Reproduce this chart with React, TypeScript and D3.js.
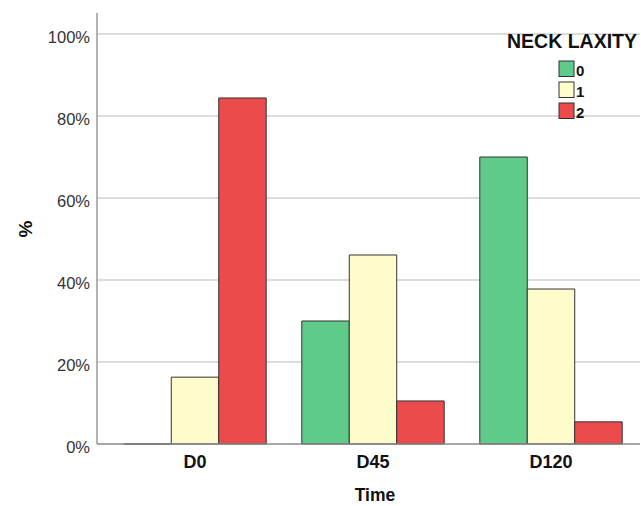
import React, { useEffect, useRef } from 'react';
import * as d3 from 'd3';

const times = ['D0', 'D45', 'D120'];
const levels = ['0', '1', '2'];
const pct0 = [0, 30, 70];
const pct1 = [16.3, 46.1, 37.8];
const pct2 = [84.4, 10.5, 5.4];
const yTicks = [0, 20, 40, 60, 80, 100];
const colors = ['#5ecb8b', '#fefccb', '#ec4b4b'];

const width = 641;
const height = 506;

const App: React.FC = () => {
  const ref = useRef<SVGSVGElement>(null);

  useEffect(() => {
    if (!ref.current) return;
    const svg = d3.select(ref.current);
    svg.selectAll('*').remove();

    const left = 97;
    const right = 640;
    const bottom = 444;
    const font = 'Liberation Sans, Arial, sans-serif';

    const y = d3.scaleLinear().domain([0, 100]).range([bottom, 34]);
    const x0 = d3
      .scaleBand<string>()
      .domain(times)
      .range([106, 640])
      .paddingInner(0.2)
      .paddingOuter(0.1);
    const x1 = d3
      .scaleBand<string>()
      .domain(levels)
      .range([0, x0.bandwidth()]);

    // gridlines
    svg
      .append('g')
      .selectAll('line')
      .data(yTicks.filter(t => t > 0))
      .enter()
      .append('line')
      .attr('x1', left)
      .attr('x2', right)
      .attr('y1', d => y(d))
      .attr('y2', d => y(d))
      .attr('stroke', '#d0d0d0')
      .attr('stroke-width', 1.5);

    // y tick labels
    svg
      .append('g')
      .selectAll('text')
      .data(yTicks)
      .enter()
      .append('text')
      .attr('x', 90)
      .attr('y', d => y(d) + 9)
      .attr('text-anchor', 'end')
      .attr('font-family', font)
      .attr('font-size', 16.5)
      .attr('fill', '#333')
      .text(d => `${d}%`);

    const series = [pct0, pct1, pct2];
    const bars = times.flatMap((t, i) =>
      levels.map((l, j) => ({ t, l, v: series[j][i], c: colors[j] })),
    );

    // bars as paths so a zero value still shows its outline
    svg
      .append('g')
      .selectAll('path')
      .data(bars)
      .enter()
      .append('path')
      .attr('d', d => {
        const bx = (x0(d.t) as number) + (x1(d.l) as number);
        const p = d3.path();
        p.rect(bx, y(d.v), x1.bandwidth(), bottom - y(d.v));
        return p.toString();
      })
      .attr('fill', d => d.c)
      .attr('stroke', '#333')
      .attr('stroke-width', 1);

    // axes lines
    svg
      .append('line')
      .attr('x1', left)
      .attr('x2', left)
      .attr('y1', 13)
      .attr('y2', bottom)
      .attr('stroke', '#999')
      .attr('stroke-width', 1.5);
    svg
      .append('line')
      .attr('x1', left)
      .attr('x2', right)
      .attr('y1', bottom)
      .attr('y2', bottom)
      .attr('stroke', '#888')
      .attr('stroke-width', 1.5);

    // x labels
    svg
      .append('g')
      .selectAll('text')
      .data(times)
      .enter()
      .append('text')
      .attr('x', d => (x0(d) as number) + x0.bandwidth() / 2)
      .attr('y', 468)
      .attr('text-anchor', 'middle')
      .attr('font-family', font)
      .attr('font-weight', 'bold')
      .attr('font-size', 18)
      .attr('fill', '#111')
      .text(d => d);

    svg
      .append('text')
      .attr('x', 375)
      .attr('y', 501)
      .attr('text-anchor', 'middle')
      .attr('font-family', font)
      .attr('font-weight', 'bold')
      .attr('font-size', 17.5)
      .attr('fill', '#111')
      .text('Time');

    svg
      .append('text')
      .attr('transform', 'translate(32,229) rotate(-90)')
      .attr('text-anchor', 'middle')
      .attr('font-family', font)
      .attr('font-weight', 'bold')
      .attr('font-size', 19)
      .attr('fill', '#111')
      .text('%');

    // legend
    svg
      .append('text')
      .attr('x', 572)
      .attr('y', 48)
      .attr('text-anchor', 'middle')
      .attr('font-family', font)
      .attr('font-weight', 'bold')
      .attr('font-size', 19.5)
      .attr('fill', '#111')
      .text('NECK LAXITY');

    const lg = svg
      .append('g')
      .selectAll('g')
      .data(levels)
      .enter()
      .append('g')
      .attr('transform', (_, i) => `translate(559,${61 + i * 21})`);
    lg.append('rect')
      .attr('width', 15)
      .attr('height', 15.5)
      .attr('fill', (_, i) => colors[i])
      .attr('stroke', '#333');
    lg.append('text')
      .attr('x', 17)
      .attr('y', 15)
      .attr('font-family', font)
      .attr('font-weight', 'bold')
      .attr('font-size', 15)
      .attr('fill', '#111')
      .text(d => d);
  }, []);

  return (
    <svg
      ref={ref}
      width={width}
      height={height}
      style={{ position: 'absolute', left: 0, top: 0, background: '#fff' }}
    />
  );
};

export default App;
